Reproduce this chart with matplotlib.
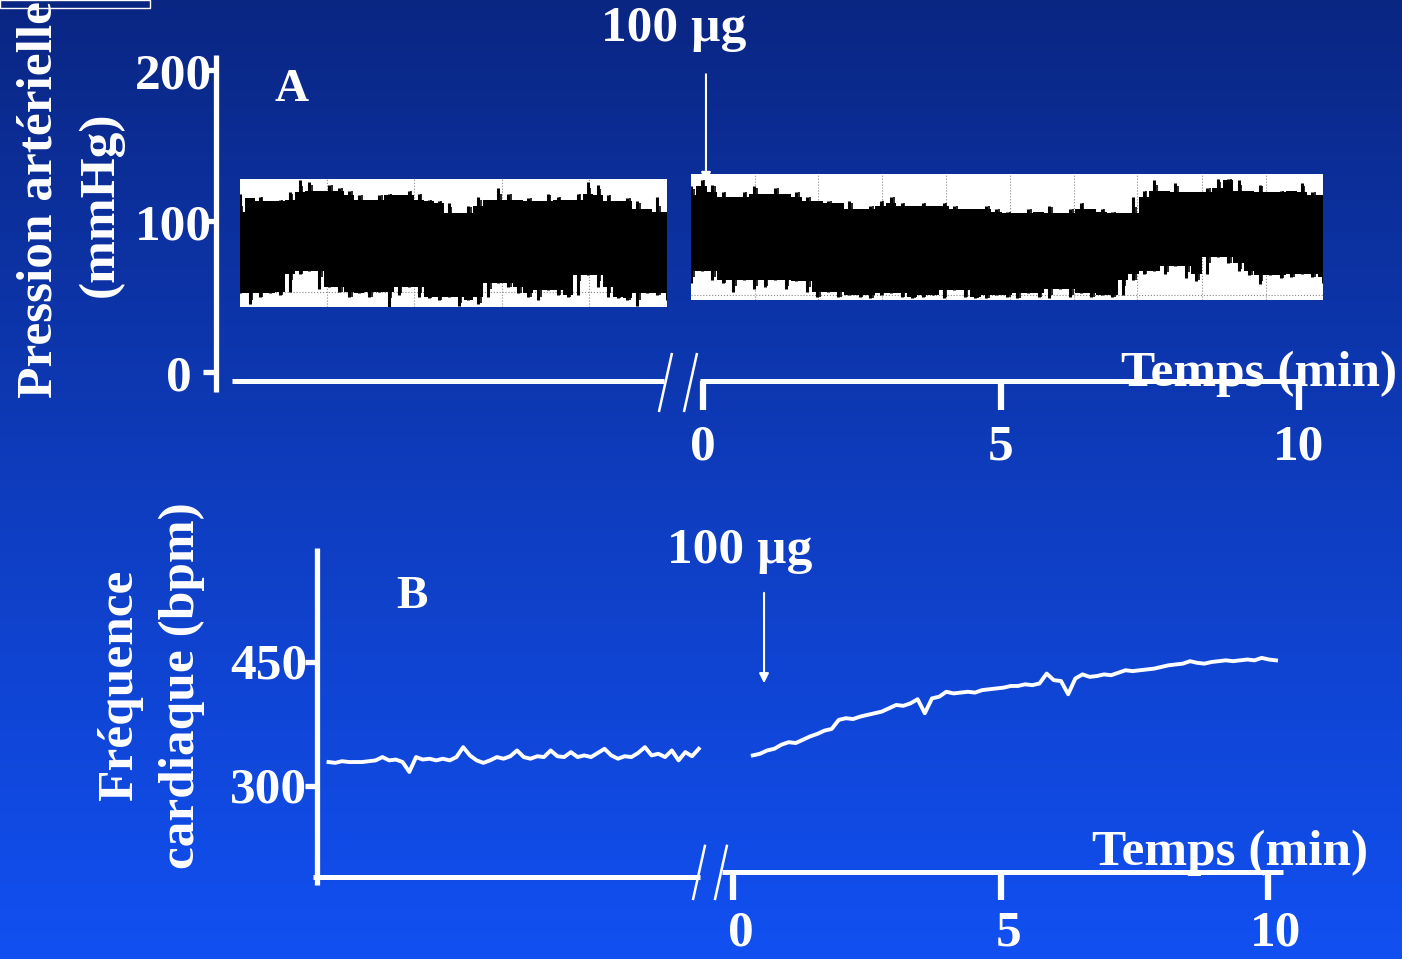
import numpy as np
import matplotlib.pyplot as plt
from matplotlib.patches import Rectangle
from matplotlib.colors import LinearSegmentedColormap

plt.rcParams['font.family'] = ['Liberation Serif', 'DejaVu Serif']
plt.rcParams['font.weight'] = 'bold'

# ---- data ----
# Panel A: arterial pressure (mmHg), upper/lower envelope of the raw recorder trace
pa_pre_upper = [118, 115, 116, 113, 114, 119, 127, 126, 120, 124, 122, 120, 117, 114, 117,
                118, 117, 120, 118, 114, 113, 112, 105, 110, 116, 114, 122, 118, 114, 115,
                113, 118, 116, 114, 118, 126, 124, 117, 113, 115, 113, 108, 116, 106]
pa_pre_lower = [52, 45, 50, 52, 51, 53, 65, 67, 55, 56, 53, 50, 52, 50, 53,
                43, 51, 56, 50, 49, 48, 50, 44, 48, 45, 50, 59, 56, 52, 50,
                48, 54, 51, 50, 51, 64, 56, 50, 49, 48, 44, 52, 51, 48]
pa_post_upper = [123, 127, 124, 119, 116, 119, 123, 118, 122, 118, 119, 116, 113, 113, 112,
                 113, 108, 110, 113, 116, 112, 110, 112, 110, 112, 110, 108, 108, 110, 108,
                 106, 105, 108, 106, 110, 105, 108, 112, 108, 108, 106, 105, 116, 120, 127,
                 120, 125, 119, 119, 122, 128, 128, 127, 120, 124, 119, 120, 120, 125, 119, 117]
pa_post_lower = [59, 67, 61, 59, 53, 61, 55, 56, 61, 55, 60, 53, 50, 53, 50,
                 51, 50, 49, 51, 52, 50, 49, 50, 51, 49, 54, 50, 49, 49, 51,
                 50, 49, 52, 50, 49, 55, 50, 52, 50, 51, 50, 51, 61, 65, 67,
                 65, 70, 62, 60, 65, 76, 72, 67, 64, 58, 64, 62, 63, 65, 63, 59]
pa_pre_span = (-7.77, -0.60)      # min, shown left of the axis break
pa_post_span = (-0.20, 10.40)
pa_strip_pre = (43, 128)          # recorder paper range (mmHg)
pa_strip_post = (48, 131)
pa_grid_pre = [-6.31, -4.85, -3.37, -1.91]
pa_grid_post = [0.87, 1.93, 3.0, 4.07, 5.15, 6.22, 7.29, 8.37, 9.45]
pa_grid_level = [53, 51]

# Panel B: heart rate (bpm)
hr_pre = [329, 328, 330, 329, 329, 329, 330, 331, 335, 331, 332, 329, 317, 335, 332,
          333, 331, 333, 331, 335, 347, 337, 331, 328, 331, 335, 333, 336, 343, 335,
          333, 336, 335, 343, 336, 335, 341, 335, 337, 335, 340, 345, 337, 333, 336,
          335, 340, 347, 337, 339, 335, 343, 331, 341, 336, 345]
hr_post = [337, 339, 343, 345, 350, 353, 352, 356, 360, 363, 367, 369, 380, 382, 381,
           384, 386, 388, 390, 394, 398, 397, 400, 405, 388, 406, 408, 414, 412, 413,
           414, 413, 416, 417, 418, 419, 421, 421, 423, 422, 424, 436, 428, 427, 411,
           430, 435, 432, 433, 435, 434, 437, 440, 439, 440, 441, 442, 444, 446, 447,
           448, 451, 449, 448, 450, 451, 452, 451, 452, 453, 452, 455, 453, 452]
hr_pre_span = (-7.56, -0.64)
hr_post_span = (0.37, 10.15)

time_ticks = [0, 5, 10]
pa_ticks = [0, 100, 200]
hr_ticks = [300, 450]
dose_label = "100 µg"

W, H = 1402, 959
fig = plt.figure(figsize=(W / 100, H / 100), dpi=100)

# background gradient
bg = fig.add_axes([0, 0, 1, 1], zorder=0)
cmap = LinearSegmentedColormap.from_list("bg", ["#0A2683", "#0E3CBD", "#1250F2"])
bg.imshow(np.linspace(0, 1, 256)[:, None], aspect='auto', cmap=cmap, extent=[0, 1, 0, 1])
bg.axis('off')
fig.add_artist(Rectangle((0, 1 - 8 / H), 150 / W, 8 / H, transform=fig.transFigure,
                         fill=False, ec='white', lw=1))


def panel_axes(x0_px, px_per_min, y0_px, y0_val, px_per_unit, z):
    ax = fig.add_axes([0, 0, 1, 1], zorder=z)
    ax.set_xlim(-x0_px / px_per_min, (W - x0_px) / px_per_min)
    ax.set_ylim(y0_val - (H - y0_px) / px_per_unit, y0_val + y0_px / px_per_unit)
    ax.patch.set_alpha(0)
    ax.axis('off')
    return ax


def trace(ax, span, strip, lower, upper, grid, level):
    # white recorder strip, its dotted grid, then the pressure trace clipped to it
    paper = Rectangle((span[0], strip[0]), span[1] - span[0], strip[1] - strip[0],
                      fc='white', ec='none', zorder=2)
    ax.add_patch(paper)
    arts = []
    for g in grid:
        arts += ax.plot([g, g], strip, color='#888888', lw=0.8, ls=':', zorder=3)
    arts += ax.plot(span, [level, level], color='#888888', lw=0.8, ls=':', zorder=3)

    t = np.linspace(*span, len(upper))
    up, lo = np.array(upper), np.array(lower)
    core_up = np.minimum(up, np.minimum(np.roll(up, 1), np.roll(up, -1)))
    core_lo = np.maximum(lo, np.maximum(np.roll(lo, 1), np.roll(lo, -1)))
    arts.append(ax.fill_between(t, core_lo, core_up, step='mid', color='black', lw=0, zorder=4))
    arts.append(ax.vlines(t, lo, up, color='black', lw=2.2, zorder=4))
    half = (t[1] - t[0]) / 2
    arts.append(ax.vlines(t + half * 0.5, np.maximum(lo, core_lo - 4),
                          np.minimum(up, core_up + 4), color='black', lw=1.2, zorder=4))
    for a in arts:
        a.set_clip_path(paper)


fs = 37
wk = dict(color='white', solid_capstyle='butt')

# ---------------- Panel A ----------------
ax = panel_axes(703, 59.6, 372, 0, 1.51, 1)

trace(ax, pa_pre_span, pa_strip_pre, pa_pre_lower, pa_pre_upper, pa_grid_pre, pa_grid_level[0])
trace(ax, pa_post_span, pa_strip_post, pa_post_lower, pa_post_upper, pa_grid_post,
      pa_grid_level[1])

# axes drawn by hand, with the break
ax.plot([-8.17, -8.17], [-13, 210], lw=3.8, **wk)
for v in pa_ticks:
    ax.plot([-8.39, -8.17], [v, v], lw=3.8, **wk)
    lx = -8.57 if v == 0 else -8.24
    ax.text(lx, v - 4, str(v), ha='right', va='center', color='white', fontsize=fs)
ax.plot([-7.9, -0.65], [-6, -6], lw=3.6, **wk)
ax.plot([-0.05, 10.0], [-6, -6], lw=3.6, **wk)
ax.plot([-0.74, -0.52], [-26.5, 12.6], lw=1.8, **wk)
ax.plot([-0.32, -0.10], [-26.5, 12.6], lw=1.8, **wk)
for t in time_ticks:
    ax.plot([t, t], [-6, -25], lw=4.5, **wk)
    ax.text(t, -50, str(t), ha='center', va='center', color='white', fontsize=fs)
ax.text(11.64, -1, "Temps (min)", ha='right', va='center', color='white', fontsize=fs)
ax.text(-6.9, 187, "A", ha='center', va='center', color='white', fontsize=34)
ax.text(-0.5, 227, dose_label, ha='center', va='center', color='white', fontsize=fs)
ax.annotate('', xy=(0.05, 124), xytext=(0.05, 199),
            arrowprops=dict(arrowstyle='-|>', color='white', lw=1.5, mutation_scale=14))
ax.text(-11.13, 114, "Pression artérielle", rotation=90, ha='center', va='center',
        color='white', fontsize=fs)
ax.text(-10.1, 111, "(mmHg)", rotation=90, ha='center', va='center',
        color='white', fontsize=fs)

# ---------------- Panel B ----------------
bx = panel_axes(733, 53.5, 786, 300, 0.8267, 2)

bx.plot(np.linspace(*hr_pre_span, len(hr_pre)), hr_pre, color='white', lw=2.8)
bx.plot(np.linspace(*hr_post_span, len(hr_post)), hr_post, color='white', lw=2.8)

bx.plot([-7.776, -7.776], [180, 588], lw=3.8, **wk)
for v in hr_ticks:
    bx.plot([-8.0, -7.776], [v, v], lw=3.8, **wk)
    bx.text(-7.96, v - 6, str(v), ha='right', va='center', color='white', fontsize=fs)
bx.plot([-7.85, -0.62], [190, 190], lw=3.6, **wk)
bx.plot([-0.2, 10.28], [196, 196], lw=3.6, **wk)
bx.plot([-0.75, -0.52], [162, 229], lw=1.8, **wk)
bx.plot([-0.34, -0.11], [162, 229], lw=1.8, **wk)
for t in time_ticks:
    bx.plot([t, t], [196, 162], lw=4.5, **wk)
    bx.text(t + 0.15, 122, str(t), ha='center', va='center', color='white', fontsize=fs)
bx.text(11.87, 219, "Temps (min)", ha='right', va='center', color='white', fontsize=fs)
bx.text(-6.0, 529, "B", ha='center', va='center', color='white', fontsize=34)
bx.text(0.13, 584, dose_label, ha='center', va='center', color='white', fontsize=fs)
bx.annotate('', xy=(0.58, 421), xytext=(0.58, 537),
            arrowprops=dict(arrowstyle='-|>', color='white', lw=1.5, mutation_scale=14))
bx.text(-11.45, 422, "Fréquence", rotation=90, ha='center', va='center',
        color='white', fontsize=fs)
bx.text(-10.3, 422, "cardiaque (bpm)", rotation=90, ha='center', va='center',
        color='white', fontsize=fs)

fig.savefig("out.png", dpi=100)
